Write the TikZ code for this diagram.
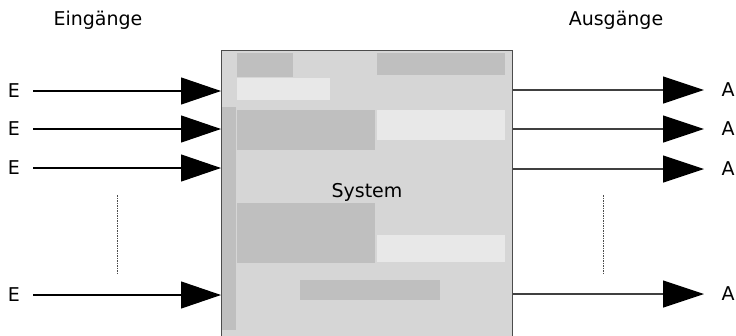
\documentclass[tikz,border=0pt]{standalone}
\usepackage{fontspec}
\setmainfont{DejaVu Sans}
\usetikzlibrary{arrows.meta}
\begin{document}
\begin{tikzpicture}[x=1pt,y=-1pt,
  lbl/.style={font=\fontsize{19}{22}\selectfont, inner sep=0pt},
  sigline/.style={draw=black, line width=1.1pt,
    -{Triangle[length=40pt,width=27pt,fill=black]}},
  outline/.style={draw=black!75, line width=1.2pt,
    -{Triangle[length=41pt,width=27pt,fill=black,color=black]}},
  ellip/.style={draw=black!70, line width=1pt, dash pattern=on 1.5pt off 1pt},
  patch/.style={fill=black!25, draw=none},
  lightpatch/.style={fill=black!9, draw=none}]
\useasboundingbox (0,0) rectangle (736,335);

% system block (runs past the lower edge)
\node[draw=black!70, line width=1pt, fill=black!16, minimum width=291pt,
      minimum height=300pt, anchor=north west, inner sep=0pt] (sys) at (221,50) {};
\begin{scope}
  \clip (221.5,50.5) rectangle (511.5,335);
  \fill[patch] (237,53) rectangle (293,77);
  \fill[patch] (377,53) rectangle (505,75);
  \fill[patch] (222,107) rectangle (236,330);
  \fill[patch] (237,110) rectangle (375,150);
  \fill[patch] (237,203) rectangle (375,263);
  \fill[patch] (300,280) rectangle (440,300);
  \fill[lightpatch] (377,110) rectangle (505,140);
  \fill[lightpatch] (377,235) rectangle (505,262);
  \fill[lightpatch] (237,78) rectangle (330,100);
\end{scope}
\node[lbl] (systxt) at (367,192) {System};

% headings
\node[lbl] (ein) at (98,20) {Eingänge};
\node[lbl] (aus) at (616,20) {Ausgänge};

% inputs
\node[lbl] (e1) at (14,91) {E};
\node[lbl] (e2) at (14,129) {E};
\node[lbl] (e3) at (14,168) {E};
\node[lbl] (e4) at (14,295) {E};
\foreach \i in {1,2,3,4}
  \draw[sigline] ([xshift=13pt]e\i.east) -- (e\i -| sys.west);

% outputs
\node[lbl] (a1) at (728,90) {A};
\node[lbl] (a2) at (728,129) {A};
\node[lbl] (a3) at (728,169) {A};
\node[lbl] (a4) at (728,294) {A};
\foreach \i in {1,2,3,4}
  \draw[outline, shorten >=24pt] (a\i -| sys.east) -- (a\i.center);

% ellipsis marks between the signal groups
\coordinate (lt) at (117,195);
\coordinate (lb) at (117,273);
\coordinate (rt) at (603,195);
\coordinate (rb) at (603,273);
\draw[ellip] (lt) -- (lb);
\draw[ellip] (rt) -- (rb);
\end{tikzpicture}
\end{document}
